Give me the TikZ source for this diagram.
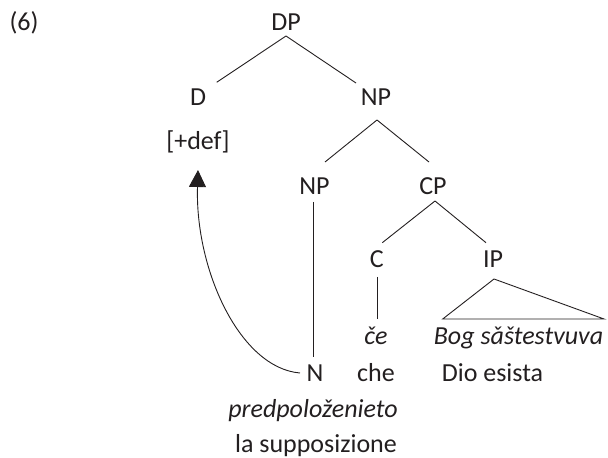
\documentclass[tikz,border=0pt]{standalone}
\usepackage{fontspec}
\setmainfont{Carlito}
\usetikzlibrary{calc,arrows.meta}
\definecolor{ink}{HTML}{231F20}
\begin{document}
\begin{tikzpicture}[x=1bp,y=-1bp,
  lab/.style={anchor=base,inner sep=0pt,text=ink,font=\fontsize{26bp}{30bp}\selectfont},
  ilab/.style={lab,font=\fontsize{26bp}{30bp}\selectfont\itshape},
  branch/.style={draw=ink,line width=0.9bp},
  move/.style={draw=ink,line width=0.9bp,-{Triangle[width=17bp,length=17bp]}}]
\useasboundingbox (0,0) rectangle (608,458);
\node[lab] (ex) at (24,31) {(6)};
\node[lab] (DP) at (286,31) {DP};
\node[lab] (D) at (198,106) {D};
\node[lab] (NPa) at (376,106) {NP};
\node[lab] (def) at (198,150) {[+def]};
\node[lab] (NPb) at (314.5,195) {NP};
\node[lab] (CP) at (433,195) {CP};
\node[lab] (C) at (376.7,268) {C};
\node[lab] (IP) at (493,268) {IP};
\node[ilab] (ce) at (376,344) {če};
\node[ilab] (bog) at (518.5,344) {Bog sǎštestvuva};
\node[lab] (N) at (315,381) {N};
\node[lab] (che) at (376,381) {che};
\node[lab] (dio) at (492.5,381) {Dio esista};
\node[ilab] (pred) at (313,417) {predpoloženieto};
\node[lab] (supp) at (316,452) {la supposizione};
% branches
\draw[branch] ($(DP.base)+(0,5)$) -- ($(D.base)+(18.7,-23.7)$);
\draw[branch] ($(DP.base)+(0,5)$) -- ($(NPa.base)+(-20,-23)$);
\draw[branch] ($(NPa.base)+(1,14)$) -- ($(NPb.base)+(10.5,-33)$);
\draw[branch] ($(NPa.base)+(1,14)$) -- ($(CP.base)+(-4,-33)$);
\draw[branch] ($(CP.base)+(2,6)$) -- ($(C.base)+(5.6,-25.3)$);
\draw[branch] ($(CP.base)+(2,6)$) -- ($(IP.base)+(-7,-25.3)$);
\draw[branch] ($(NPb.base)+(-1.5,7)$) -- ($(N.base)+(-2,-24)$);
\draw[branch] ($(C.base)+(0.6,9)$) -- ($(ce.base)+(1.3,-25)$);
\draw[branch] ($(IP.base)+(1,11)$) -- ($(bog.base)+(-75.8,-25)$) -- ($(bog.base)+(85.5,-25)$) -- cycle;
% movement arrow
\draw[move] ($(N.base)+(-15,-8)$) .. controls (240,368) and (195,270) .. ($(def.base)+(0,20)$);
\end{tikzpicture}
\end{document}
